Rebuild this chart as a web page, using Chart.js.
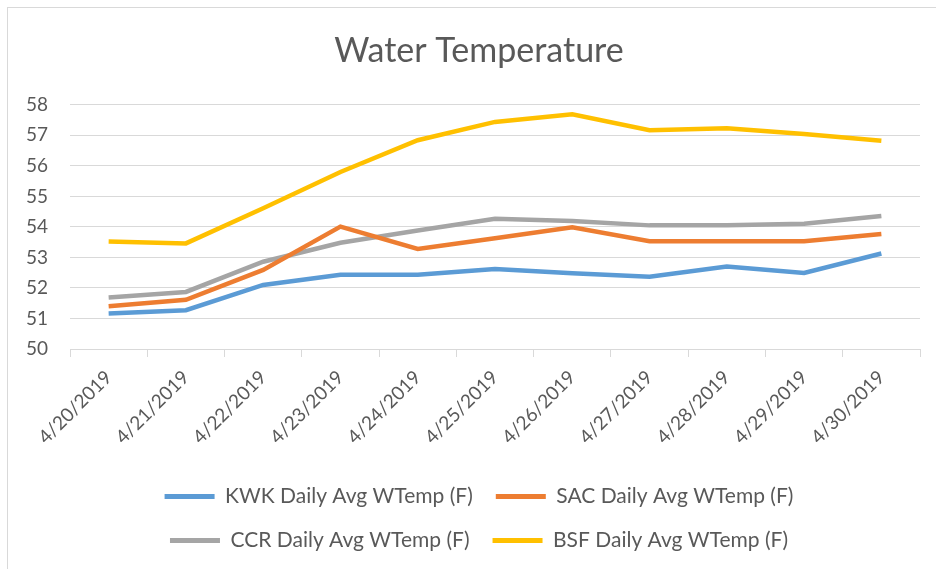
<!DOCTYPE html>
<html>
<head>
<meta charset="utf-8">
<title>Water Temperature</title>
<script src="https://cdn.jsdelivr.net/npm/chart.js@4/dist/chart.umd.min.js"></script>
<style>
  html, body { margin: 0; padding: 0; background: #fff; overflow: hidden; }
  #frame { position: absolute; left: 7px; top: 7px; width: 960px; height: 600px; border: 1px solid #d9d9d9; }
  #tempChart { position: absolute; left: 0; top: 0; }
</style>
</head>
<body>
<div id="frame"></div>
<canvas id="tempChart" width="936" height="569"></canvas>
<script>
// Datoer (x-akse)
const dates = ['4/20/2019', '4/21/2019', '4/22/2019', '4/23/2019', '4/24/2019', '4/25/2019',
  '4/26/2019', '4/27/2019', '4/28/2019', '4/29/2019', '4/30/2019'];

// Daglige gennemsnit pr. station (F)
const kwkTemp = [51.16, 51.27, 52.10, 52.43, 52.43, 52.62, 52.48, 52.37, 52.70, 52.49, 53.13];
const sacTemp = [51.40, 51.61, 52.59, 54.01, 53.28, 53.63, 53.99, 53.53, 53.53, 53.53, 53.77];
const ccrTemp = [51.69, 51.87, 52.86, 53.48, 53.88, 54.27, 54.19, 54.05, 54.05, 54.10, 54.36];
const bsfTemp = [53.52, 53.46, 54.61, 55.80, 56.84, 57.44, 57.69, 57.17, 57.23, 57.04, 56.82];

// y-akse
const yMin = 50;
const yMax = 58;
const yStep = 1;

const textColor = '#595959';
const gridColor = '#d9d9d9';
const fontFamily = 'Lato, "Open Sans", sans-serif';

function series(label, data, color) {
  return {
    label,
    data,
    borderColor: color,
    backgroundColor: color,
    borderWidth: 4.5,
    pointRadius: 0,
    tension: 0,
    fill: false
  };
}

const ctx = document.getElementById('tempChart').getContext('2d');

new Chart(ctx, {
  type: 'line',
  data: {
    labels: dates,
    datasets: [
      series('KWK Daily Avg WTemp (F)', kwkTemp, '#5B9BD5'),
      series('SAC Daily Avg WTemp (F)', sacTemp, '#ED7D31'),
      series('CCR Daily Avg WTemp (F)', ccrTemp, '#A5A5A5'),
      series('BSF Daily Avg WTemp (F)', bsfTemp, '#FFC000')
    ]
  },
  options: {
    responsive: false,
    animation: false,
    // venstre padding flytter titel/legende lidt mod højre som i Excel
    layout: { padding: { left: 22, right: 0, top: 0, bottom: 8 } },
    plugins: {
      title: {
        display: true,
        text: 'Water Temperature',
        color: textColor,
        font: { family: fontFamily, size: 34, weight: 'normal' },
        padding: { top: 31, bottom: 33 }
      },
      legend: {
        position: 'bottom',
        labels: {
          color: textColor,
          font: { family: fontFamily, size: 21 },
          boxWidth: 50,
          boxHeight: 5,
          padding: 23,
          generateLabels(chart) {
            return chart.data.datasets.map((ds, i) => ({
              text: ds.label,
              fillStyle: ds.borderColor,
              strokeStyle: ds.borderColor,
              lineWidth: 0,
              fontColor: textColor,
              datasetIndex: i
            }));
          }
        }
      },
      tooltip: { enabled: false }
    },
    scales: {
      x: {
        offset: true,
        grid: {
          offset: true,
          drawOnChartArea: false,
          drawTicks: true,
          tickLength: 8,
          color: gridColor
        },
        border: { color: gridColor, width: 1 },
        ticks: {
          color: textColor,
          font: { family: fontFamily, size: 19 },
          minRotation: 45,
          maxRotation: 45,
          autoSkip: false,
          padding: 9
        },
        afterFit(scale) { scale.height = 114; }
      },
      y: {
        min: yMin,
        max: yMax,
        grid: { color: gridColor, drawTicks: false },
        border: { display: false },
        ticks: {
          stepSize: yStep,
          color: textColor,
          font: { family: fontFamily, size: 19 },
          padding: 22
        },
        afterFit(scale) { scale.width = 48; }
      },
      // tom akse til højre, kun for at holde plottet fri af kanten
      yRight: {
        position: 'right',
        grid: { drawOnChartArea: false, drawTicks: false },
        border: { display: false },
        ticks: { display: false },
        afterFit(scale) { scale.width = 16; }
      }
    }
  }
});
</script>
</body>
</html>
